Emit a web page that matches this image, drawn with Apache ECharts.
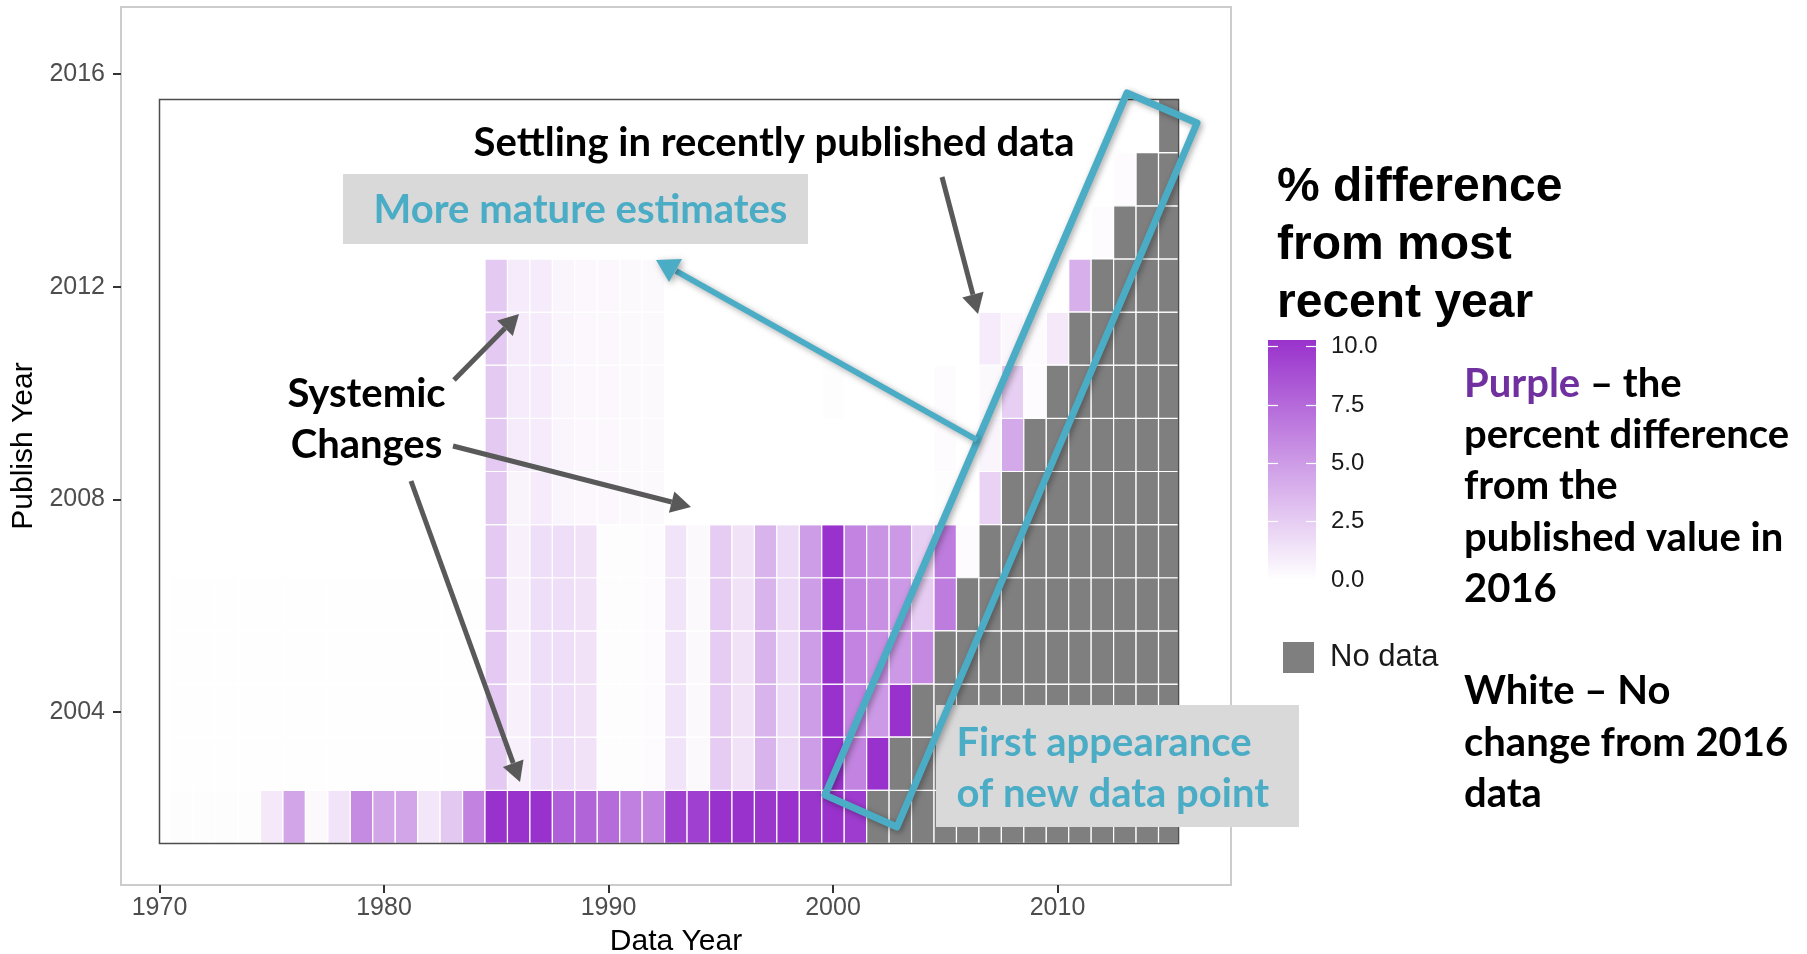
<!DOCTYPE html>
<html>
<head>
<meta charset="utf-8">
<script src="https://cdn.jsdelivr.net/npm/echarts@6/dist/echarts.min.js"></script>
<style>
  html, body { margin: 0; background: #fff; }
  #revisionChart { width: 1807px; height: 954px; }
</style>
</head>
<body>
<div id="revisionChart"></div>
<script>
// data years on x, publish years on y
const dataYears = [
  1971, 1972, 1973, 1974, 1975, 1976, 1977, 1978, 1979, 1980,
  1981, 1982, 1983, 1984, 1985, 1986, 1987, 1988, 1989, 1990,
  1991, 1992, 1993, 1994, 1995, 1996, 1997, 1998, 1999, 2000,
  2001, 2002, 2003, 2004, 2005, 2006, 2007, 2008, 2009, 2010,
  2011, 2012, 2013, 2014, 2015
]
const publishYears = [2002, 2003, 2004, 2005, 2006, 2007, 2008, 2009, 2010, 2011, 2012, 2013, 2014, 2015]
const xTickLabels = [1970, 1980, 1990, 2000, 2010]
const yTickLabels = [2004, 2008, 2012, 2016]
const legendTicks = [0, 2.5, 5, 7.5, 10]

// % difference from 2016 value, one array per publish year (1971..2015), null = no data
const N = null
const pub2002 = [
  0.1, 0.1, 0.1, 0.1, 1.1, 4.4, 0.3, 1.3, 5.7, 4.4, 4.4, 1.2, 2.7, 6.1,
  10, 10, 10, 7.8, 7.6, 7.2, 6.2, 6.0,
  9.3, 9.3, 10, 10, 9.8, 10, 9.8, 10, 9.5, N, N, N,
  N, N, N, N, N, N, N, N, N, N, N
]
const pub2003 = [
  0.05, 0.05, 0.05, 0.05, 0.05, 0.05, 0.05, 0.05, 0.05, 0.05, 0.05, 0.05, 0.05, 0.05,
  2.6, 0.7, 1.6, 1.6, 1.4, 0.1, 0.1, 0.2,
  1.3, 0.3, 2.5, 1.4, 3.7, 1.8, 4.8, 10, 6.0, 10, N, N,
  N, N, N, N, N, N, N, N, N, N, N
]
const pub2004 = [
  0.05, 0.05, 0.05, 0.05, 0.05, 0.05, 0.05, 0.05, 0.05, 0.05, 0.05, 0.05, 0.05, 0.05,
  2.6, 0.7, 1.6, 1.6, 1.4, 0.1, 0.1, 0.2,
  1.3, 0.3, 2.5, 1.4, 3.7, 1.8, 4.8, 10, 6.0, 5.0, 10, N,
  N, N, N, N, N, N, N, N, N, N, N
]
const pub2005 = [
  0.05, 0.05, 0.05, 0.05, 0.05, 0.05, 0.05, 0.05, 0.05, 0.05, 0.05, 0.05, 0.05, 0.05,
  2.6, 0.7, 1.6, 1.6, 1.4, 0.1, 0.1, 0.2,
  1.3, 0.3, 2.5, 1.4, 3.7, 1.8, 4.8, 10, 6.0, 5.4, 5.0, 5.8,
  N, N, N, N, N, N, N, N, N, N, N
]
const pub2006 = [
  0.05, 0.05, 0.05, 0.05, 0.05, 0.05, 0.05, 0.05, 0.05, 0.05, 0.05, 0.05, 0.05, 0.05,
  2.6, 0.7, 1.6, 1.6, 1.4, 0.1, 0.1, 0.2,
  1.3, 0.3, 2.5, 1.4, 3.7, 1.8, 4.8, 10, 6.0, 5.4, 5.0, 2.5,
  6.4, N, N, N, N, N, N, N, N, N, N
]
const pub2007 = [
  0, 0, 0, 0, 0, 0, 0, 0, 0, 0, 0, 0, 0, 0,
  2.6, 0.7, 1.6, 1.6, 1.4, 0.1, 0.1, 0.2,
  1.3, 0.3, 2.5, 1.4, 3.7, 1.8, 4.8, 10, 6.0, 5.2, 5.0, 2.4,
  6.4, 0.2, N, N, N, N, N, N, N, N, N
]
const pub2008 = [
  0, 0, 0, 0, 0, 0, 0, 0, 0, 0, 0, 0, 0, 0,
  2.6, 0.6, 1.0, 0.5, 0.4, 0.4, 0.3, 0.3,
  0, 0, 0, 0, 0, 0, 0, 0, 0, 0, 0, 0,
  0.1, 0, 2.2, N, N, N, N, N, N, N, N
]
const pub2009 = [
  0, 0, 0, 0, 0, 0, 0, 0, 0, 0, 0, 0, 0, 0,
  2.6, 1.0, 1.0, 0.5, 0.4, 0.4, 0.3, 0.3,
  0, 0, 0, 0, 0, 0, 0, 0, 0, 0, 0, 0,
  0.2, 0, 0.5, 4.2, N, N, N, N, N, N, N
]
const pub2010 = [
  0, 0, 0, 0, 0, 0, 0, 0, 0, 0, 0, 0, 0, 0,
  2.6, 1.0, 1.0, 0.5, 0.4, 0.4, 0.3, 0.3,
  0, 0, 0, 0, 0, 0, 0, 0.1, 0, 0, 0, 0,
  0.2, 0, 0.3, 2.4, 0.2, N, N, N, N, N, N
]
const pub2011 = [
  0, 0, 0, 0, 0, 0, 0, 0, 0, 0, 0, 0, 0, 0,
  2.6, 1.0, 1.0, 0.5, 0.4, 0.4, 0.3, 0.3,
  0, 0, 0, 0, 0, 0, 0, 0, 0, 0, 0, 0,
  0, 0, 1.0, 0.4, 0.2, 1.1, N, N, N, N, N
]
const pub2012 = [
  0, 0, 0, 0, 0, 0, 0, 0, 0, 0, 0, 0, 0, 0,
  2.6, 1.0, 1.0, 0.5, 0.4, 0.4, 0.3, 0.3,
  0, 0, 0, 0, 0, 0, 0, 0, 0, 0, 0, 0,
  0, 0, 0, 0, 0, 0, 3.9, N, N, N, N
]
const pub2013 = [
  0, 0, 0, 0, 0, 0, 0, 0, 0, 0, 0, 0, 0, 0,
  0, 0, 0, 0, 0, 0, 0, 0,
  0, 0, 0, 0, 0, 0, 0, 0, 0, 0, 0, 0,
  0, 0, 0, 0, 0, 0, 0, 0.2, N, N, N
]
const pub2014 = [
  0, 0, 0, 0, 0, 0, 0, 0, 0, 0, 0, 0, 0, 0,
  0, 0, 0, 0, 0, 0, 0, 0,
  0, 0, 0, 0, 0, 0, 0, 0, 0, 0, 0, 0,
  0, 0, 0, 0, 0, 0, 0, 0, 0.2, N, N
]
const pub2015 = [
  0, 0, 0, 0, 0, 0, 0, 0, 0, 0, 0, 0, 0, 0,
  0, 0, 0, 0, 0, 0, 0, 0,
  0, 0, 0, 0, 0, 0, 0, 0, 0, 0, 0, 0,
  0, 0, 0, 0, 0, 0, 0, 0, 0, 0, N
]
const pubRows = [pub2002, pub2003, pub2004, pub2005, pub2006, pub2007, pub2008,
  pub2009, pub2010, pub2011, pub2012, pub2013, pub2014, pub2015]

const HELV = '"Liberation Sans", Arial, Helvetica, sans-serif'
const LATO = 'Lato, "Open Sans", sans-serif'
const BLUE = '#4bacc6'
const ARROW = '#595959'

// layout: pixel of data year 1970 and px per year, top edge of tile area
const X0 = 159.5, PX_X = 22.45
const Y_TOP = 99.5, PX_Y = 53.14
const Y2016 = 74.2 // pixel of the 2016 tick on the outer panel
const panel = { left: 121, top: 7, width: 1110, height: 878 }
const box = { left: X0, top: Y_TOP, width: 1019, height: 744 }

const cells = []
const noData = []
pubRows.forEach((row, r) => {
  row.forEach((v, c) => {
    if (v === null) noData.push([dataYears[c], publishYears[r]])
    else cells.push([dataYears[c], publishYears[r], v])
  })
})

const renderTile = (params, api) => {
  const x = api.value(0)
  const y = api.value(1)
  const p0 = api.coord([x - 0.5, y + 0.5])
  const p1 = api.coord([x + 0.5, y - 0.5])
  const cs = params.coordSys
  const shape = echarts.graphic.clipRectByRect(
    { x: p0[0], y: p0[1], width: p1[0] - p0[0], height: p1[1] - p0[1] },
    { x: cs.x, y: cs.y, width: cs.width, height: cs.height }
  )
  if (!shape) return
  return {
    type: 'rect',
    shape: shape,
    style: { fill: api.visual('color'), stroke: '#ffffff', lineWidth: 1.2 },
  }
}

const arrow = (x1, y1, x2, y2, color, width, head) => {
  const a = Math.atan2(y2 - y1, x2 - x1)
  const bx = x2 - head * Math.cos(a)
  const by = y2 - head * Math.sin(a)
  const hw = head * 0.55
  const nx = -Math.sin(a), ny = Math.cos(a)
  return [
    { type: 'line', z: 110, shape: { x1: x1, y1: y1, x2: bx, y2: by },
      style: { stroke: color, lineWidth: width } },
    { type: 'polygon', z: 110,
      shape: { points: [[x2, y2], [bx + nx * hw, by + ny * hw], [bx - nx * hw, by - ny * hw]] },
      style: { fill: color } },
  ]
}

const annText = (text, x, y, opts) => ({
  type: 'text', z: 105, x: x, y: y,
  style: Object.assign({
    text: text, fill: '#000', fontFamily: LATO, fontWeight: 'bold', fontSize: 40,
    align: 'left', verticalAlign: 'middle', lineHeight: 51,
  }, opts || {}),
})

const blueShadow = { shadowBlur: 6, shadowColor: 'rgba(0,0,0,0.35)', shadowOffsetX: 2, shadowOffsetY: 2 }

const xMin0 = 1970 - (X0 - panel.left) / PX_X
const yMax0 = 2016 + (Y2016 - panel.top) / PX_Y

let myChart = echarts.init(document.getElementById('revisionChart'))
let option = {
  animation: false,
  grid: [
    { left: panel.left, top: panel.top, width: panel.width, height: panel.height, outerBoundsMode: 'none',
      show: true, borderColor: '#cccccc', borderWidth: 2, backgroundColor: '#ffffff' },
    { left: box.left, top: box.top, width: box.width, height: box.height, outerBoundsMode: 'none',
      show: true, borderColor: '#4d4d4d', borderWidth: 1.5, backgroundColor: 'transparent', z: 5 },
    { left: 1268, top: 340, width: 48, height: 240, show: true, borderWidth: 0, outerBoundsMode: 'none',
      backgroundColor: new echarts.graphic.LinearGradient(0, 0, 0, 1, [
        { offset: 0, color: '#9932cc' },
        { offset: 1, color: '#ffffff' },
      ]) },
  ],
  xAxis: [
    {
      gridIndex: 0, type: 'value',
      min: xMin0, max: xMin0 + panel.width / PX_X,
      axisLine: { show: false },
      splitLine: { show: false },
      axisTick: { length: 8, lineStyle: { color: '#333', width: 2 }, customValues: xTickLabels },
      axisLabel: { customValues: xTickLabels, fontSize: 25, color: '#4d4d4d', fontFamily: HELV, margin: 11,
        formatter: (v) => String(Math.round(v)) },
      name: 'Data Year', nameLocation: 'middle', nameGap: 42,
      nameTextStyle: { fontSize: 30, color: '#000', fontFamily: HELV },
    },
    { gridIndex: 1, type: 'value', min: 1970, max: 1970 + box.width / PX_X, show: false },
    { gridIndex: 2, type: 'value', min: 0, max: 1, show: false },
  ],
  yAxis: [
    {
      gridIndex: 0, type: 'value',
      min: yMax0 - panel.height / PX_Y, max: yMax0,
      axisLine: { show: false },
      splitLine: { show: false },
      axisTick: { length: 8, lineStyle: { color: '#333', width: 2 }, customValues: yTickLabels },
      axisLabel: { customValues: yTickLabels, fontSize: 25, color: '#4d4d4d', fontFamily: HELV, margin: 16,
        formatter: (v) => String(Math.round(v)) },
      name: 'Publish Year', nameLocation: 'middle', nameGap: 80,
      nameTextStyle: { fontSize: 30, color: '#000', fontFamily: HELV },
    },
    { gridIndex: 1, type: 'value', min: 2015.5 - box.height / PX_Y, max: 2015.5, show: false },
    {
      gridIndex: 2, type: 'value', min: 0, max: 10.28, position: 'left',
      axisLine: { show: false }, splitLine: { show: false }, axisLabel: { show: false },
      axisTick: { inside: true, length: 10, lineStyle: { color: '#ffffff', width: 1.2 }, customValues: legendTicks },
    },
    {
      gridIndex: 2, type: 'value', min: 0, max: 10.28, position: 'right',
      axisLine: { show: false }, splitLine: { show: false },
      axisTick: { inside: true, length: 10, lineStyle: { color: '#ffffff', width: 1.2 }, customValues: legendTicks },
      axisLabel: { customValues: legendTicks, margin: 15, fontSize: 24, color: '#1a1a1a', fontFamily: HELV,
        formatter: (v) => v.toFixed(1) },
    },
  ],
  visualMap: {
    show: false, type: 'continuous', min: 0, max: 10, dimension: 2, seriesIndex: 0,
    inRange: { color: ['#ffffff', '#9932cc'] },
  },
  legend: {
    data: [{ name: 'No data', icon: 'rect' }],
    left: 1283, top: 642, padding: 0, itemWidth: 31, itemHeight: 31, selectedMode: false,
    textStyle: { fontSize: 31, color: '#1a1a1a', fontFamily: HELV, padding: [0, 0, 0, 11] },
  },
  series: [
    { name: 'difference', type: 'custom', xAxisIndex: 1, yAxisIndex: 1,
      renderItem: renderTile, data: cells, encode: { x: 0, y: 1 } },
    { name: 'No data', type: 'custom', xAxisIndex: 1, yAxisIndex: 1,
      itemStyle: { color: '#7f7f7f' },
      renderItem: renderTile, data: noData, encode: { x: 0, y: 1 } },
  ],
  graphic: [
    // legend title and explanatory text
    { type: 'text', z: 105, x: 1277, y: 159,
      style: { text: '% difference\nfrom most\nrecent year', fill: '#000', fontFamily: HELV,
        fontWeight: 'bold', fontSize: 48, lineHeight: 58, align: 'left', verticalAlign: 'top' } },
    annText('{p|Purple} \u2013 the\npercent difference\nfrom the\npublished value in\n2016', 1464, 358.4, {
      verticalAlign: 'top', lineHeight: 51.2,
      rich: { p: { fill: '#7030a0', fontFamily: LATO, fontWeight: 'bold', fontSize: 40, lineHeight: 51.2 } },
    }),
    annText('White \u2013 No\nchange from 2016\ndata', 1464, 665.8, { verticalAlign: 'top', lineHeight: 51.2 }),

    // chart annotations
    { type: 'rect', z: 104, shape: { x: 343, y: 174, width: 465, height: 70 }, style: { fill: '#d9d9d9' } },
    annText('More mature estimates', 580.5, 210, { fill: BLUE, align: 'center' }),
    annText('Settling in recently published data', 473.6, 143),
    annText('Systemic\nChanges', 366.5, 368.5, { align: 'center', verticalAlign: 'top' }),
    { type: 'rect', z: 104, shape: { x: 936, y: 705, width: 363, height: 122 }, style: { fill: '#d9d9d9' } },
    annText('First appearance\nof new data point', 956.5, 717.5, { fill: BLUE, verticalAlign: 'top' }),

    ...arrow(454, 380, 519, 314, ARROW, 5, 20),
    ...arrow(453, 446, 691, 507, ARROW, 5, 20),
    ...arrow(411, 481, 520, 782, ARROW, 5, 20),
    ...arrow(942, 177, 978, 314, ARROW, 5, 20),

    { type: 'polygon', z: 112,
      shape: { points: [[1127, 93], [1197, 123], [897, 827], [825, 795]] },
      style: Object.assign({ fill: 'none', stroke: BLUE, lineWidth: 7, lineJoin: 'round' }, blueShadow) },
    { type: 'line', z: 112, shape: { x1: 977, y1: 440, x2: 676, y2: 271 },
      style: Object.assign({ stroke: BLUE, lineWidth: 6 }, blueShadow) },
    { type: 'polygon', z: 112,
      shape: { points: [[656, 260], [682, 259], [669, 282]] },
      style: Object.assign({ fill: BLUE }, blueShadow) },
  ],
}

myChart.setOption(option)
</script>
</body>
</html>
